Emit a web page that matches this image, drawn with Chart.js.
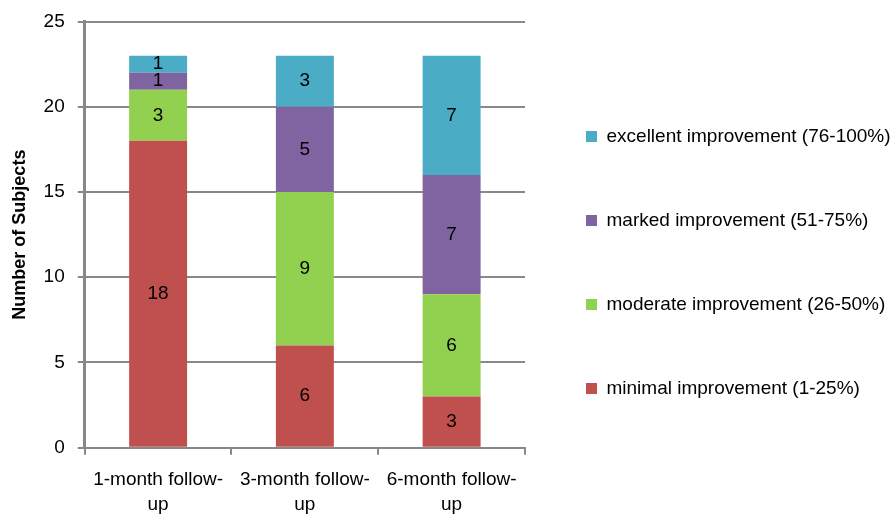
<!DOCTYPE html>
<html>
<head>
<meta charset="utf-8">
<script src="https://cdn.jsdelivr.net/npm/chart.js@4"></script>
<style>
  html, body { margin: 0; padding: 0; background: #fff; }
  #wrap { width: 893px; height: 517px; }
</style>
</head>
<body>
<div id="wrap"><canvas id="myChart" width="893" height="517"></canvas></div>
<script>
const categories = [["1-month follow-", "up"], ["3-month follow-", "up"], ["6-month follow-", "up"]];
const minimal = [18, 6, 3];
const moderate = [3, 9, 6];
const marked = [1, 5, 7];
const excellent = [1, 3, 7];
const yTicks = [0, 5, 10, 15, 20, 25];

const fontFamily = "'Liberation Sans', Arial, sans-serif";
const gridColor = "#888888";

// writes the value in the middle of each bar segment
const segmentLabels = {
  id: "segmentLabels",
  afterDatasetsDraw(chart) {
    const ctx = chart.ctx;
    ctx.save();
    ctx.fillStyle = "#000";
    ctx.font = "19px " + fontFamily;
    ctx.textAlign = "center";
    ctx.textBaseline = "middle";
    chart.data.datasets.forEach((ds, i) => {
      const meta = chart.getDatasetMeta(i);
      meta.data.forEach((bar, j) => {
        ctx.fillText(ds.data[j], bar.x, (bar.y + bar.base) / 2);
      });
    });
    ctx.restore();
  },
};

// keep the legend a fixed width so the plot area ends where the original does
const legendWidth = {
  id: "legendWidth",
  beforeInit(chart) {
    const fit = chart.legend.fit;
    chart.legend.fit = function () {
      fit.bind(chart.legend)();
      this.width = 368;
    };
  },
  beforeDraw(chart) {
    chart.legend.left = chart.chartArea.right - 4;
    chart.legend.top = -5;
  },
};

const ctx = document.getElementById("myChart").getContext("2d");
const config = {
  type: "bar",
  data: {
    labels: categories,
    datasets: [
      { label: "minimal improvement (1-25%)", data: minimal, backgroundColor: "#C0504D" },
      { label: "moderate improvement (26-50%)", data: moderate, backgroundColor: "#92D050" },
      { label: "marked improvement (51-75%)", data: marked, backgroundColor: "#8064A2" },
      { label: "excellent improvement (76-100%)", data: excellent, backgroundColor: "#4BACC6" },
    ],
  },
  options: {
    responsive: false,
    animation: false,
    layout: { padding: { top: 2, left: 9, right: 0, bottom: -13 } },
    datasets: {
      bar: { barPercentage: 0.395, categoryPercentage: 1, borderWidth: 0 },
    },
    scales: {
      x: {
        stacked: true,
        offset: true,
        grid: {
          offset: true,
          drawOnChartArea: false,
          drawTicks: true,
          tickLength: 7,
          color: gridColor,
          lineWidth: 2,
        },
        border: { color: gridColor, width: 2 },
        ticks: {
          color: "#000",
          font: { family: fontFamily, size: 19, lineHeight: 1.35 },
          maxRotation: 0,
          padding: 12,
        },
      },
      y: {
        stacked: true,
        min: 0,
        max: 25,
        afterBuildTicks(axis) {
          axis.ticks = yTicks.map((v) => ({ value: v }));
        },
        grid: {
          color: gridColor,
          lineWidth: 2,
          tickLength: 7,
        },
        border: { color: gridColor, width: 3 },
        ticks: {
          color: "#000",
          font: { family: fontFamily, size: 19, lineHeight: 0.9 },
          padding: 13,
        },
        title: {
          display: true,
          text: "Number of Subjects",
          color: "#000",
          font: { family: fontFamily, size: 18, weight: "bold" },
          padding: { top: 0, bottom: 0 },
        },
      },
    },
    plugins: {
      tooltip: { enabled: false },
      legend: {
        position: "right",
        reverse: true,
        labels: {
          color: "#000",
          font: { family: fontFamily, size: 19 },
          boxWidth: 11,
          boxHeight: 11,
          padding: 65,
        },
      },
    },
  },
  plugins: [segmentLabels, legendWidth],
};
const myChart = new Chart(ctx, config);
</script>
</body>
</html>
